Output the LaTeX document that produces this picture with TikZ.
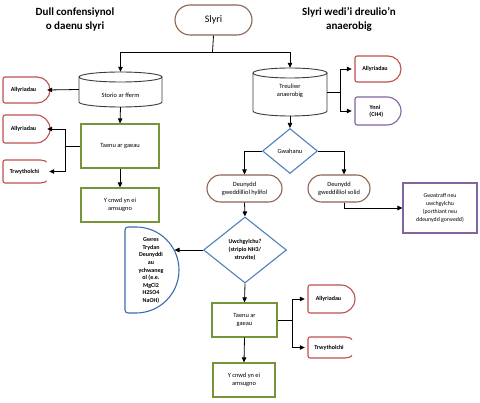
\documentclass[tikz,border=0pt]{standalone}
\usepackage{fontspec}
\setmainfont{Carlito}
\usetikzlibrary{arrows.meta,shapes.geometric,calc}
\definecolor{cred}{HTML}{C0504D}
\definecolor{cgreen}{HTML}{77933C}
\definecolor{cpurple}{HTML}{8064A2}
\definecolor{cblue}{HTML}{4F81BD}
\definecolor{cbluedk}{HTML}{3A6DAF}
\definecolor{cbrown}{HTML}{8B6552}
\definecolor{cgray}{HTML}{3A3A3A}
\newcommand\dshape[8]{% name, x0, y0, x1, y1, colour, text, clip x
  \pgfmathsetmacro\rr{(#5-#3)/2}
  \pgfmathsetmacro\xa{#4-\rr}
  \pgfmathsetmacro\ww{#4-#2}
  \pgfmathsetmacro\hh{#5-#3}
  \begin{scope}
    \clip (#2-2,#3-2) rectangle (#8,#5+2);
    \draw[draw=#6, shp, rounded corners=2pt] (\xa,#5) -- (#2,#5) -- (#2,#3) -- (\xa,#3);
    \draw[draw=#6, shp] (\xa,#3) arc[start angle=270,end angle=450,radius=\rr];
  \end{scope}
  \node[lbl, font=\fontsize{6}{7.2}\selectfont\bfseries, minimum width=\ww pt, minimum height=\hh pt] (#1) at ({(#2+#4)/2-3},{(#3+#5)/2}) {#7};
}
\begin{document}
\begin{tikzpicture}[x=1pt,y=-1pt,
  shp/.style={line width=1.1pt},
  lbl/.style={font=\fontsize{6.4}{7.8}\selectfont, align=center, inner sep=0pt},
  gbox/.style={draw=cgreen, shp, lbl},
  term/.style={draw=cbrown, shp, lbl},
  arr/.style={-{Triangle[length=5pt,width=4.5pt]}, line width=0.8pt},
  ln/.style={line width=0.8pt},
  cylst/.style={draw=cgray, line width=0.9pt},
  title/.style={font=\fontsize{11}{14}\selectfont\bfseries, align=center, inner sep=0pt}]
\useasboundingbox (0,0) rectangle (480,403);
\fill[white] (0,0) rectangle (480,403);

% titles
\node[title] (tl) at (75,19.5) {Dull confensiynol\\o daenu slyri};
\node[title] (tr) at (349,19.5) {Slyri wedi’i dreulio’n\\anaerobig};

% start
\node[term, font=\fontsize{10}{11}\selectfont, minimum width=77pt, minimum height=30pt, rounded corners=15pt] (slyri) at (213.5,20) {Slyri};

% Storio cylinder
\draw[cylst] (79,77) -- (79,102) arc[start angle=180,end angle=0,x radius=41.5,y radius=5] -- (162,77);
\draw[cylst] (120.5,77) ellipse[x radius=41.5,y radius=5];
\node[minimum width=83pt, minimum height=35pt, inner sep=0pt] (storio) at (120.5,89.5) {};
\node[lbl] (storiot) at (120.5,95) {Storio ar fferm};

% Treuliwr cylinder
\draw[cylst] (253,73) -- (253,111) arc[start angle=180,end angle=0,x radius=37,y radius=5] -- (327,73);
\draw[cylst] (290,73) ellipse[x radius=37,y radius=5];
\node[minimum width=74pt, minimum height=48pt, inner sep=0pt] (treul) at (290,92) {};
\node[lbl] (treult) at (290,91) {Treuliwr\\anaerobig};

% left column
\node[gbox, minimum width=78pt, minimum height=44pt] (taenu) at (120,146) {Taenu ar gaeau};
\node[gbox, minimum width=78pt, minimum height=34pt] (cnwd) at (120,205) {Y cnwd yn ei\\amsugno};

\dshape{a1}{3}{77}{50}{103}{cred}{Allyriadau}{60}
\dshape{a2}{3}{115}{50}{143}{cred}{Allyriadau}{60}
\dshape{t1}{3}{160}{52}{183}{cred}{Trwytholchi}{46.5}
\dshape{a3}{355}{56}{401}{82}{cred}{Allyriadau}{410}
\dshape{ynni}{355}{97}{401}{125}{cpurple}{Ynni\\\ \ (CH4)}{410}
\dshape{a4}{308}{285}{355}{313}{cred}{Allyriadau}{365}
\dshape{t2}{308}{337}{356}{358}{cred}{Trwytholchi}{352}

% separation
\node[diamond, draw=cblue, shp, lbl, minimum width=55pt, minimum height=45pt] (gw) at (290,151) {Gwahanu};
\node[term, minimum width=75pt, minimum height=27pt, rounded corners=13.5pt] (hyl) at (244.5,188.5) {Deunydd\\gweddilliol hylifol};
\node[term, minimum width=62pt, minimum height=27pt, rounded corners=13.5pt] (sol) at (339,188.5) {Deunydd\\gweddilliol solid};
\node[draw=cpurple, shp, lbl, font=\fontsize{5.8}{8}\selectfont, minimum width=74pt, minimum height=50pt] (gwas) at (440,208) {Gwastraff neu\\uwchgylchu\\(porthiant neu\\ddeunydd gorwedd)};

% upcycling decision
\node[diamond, draw=cblue, shp, lbl, font=\fontsize{6}{8}\selectfont\bfseries, minimum width=83pt, minimum height=66pt] (uw) at (245,250) {Uwchgylchu?\\(stripio NH3/\\struvite)};

% Gwres shape
\draw[draw=cbluedk, shp, rounded corners=3pt] (136,313) -- (125,313) -- (125,227) -- (136,227);
\draw[draw=cbluedk, shp] (136,227) arc[start angle=270,end angle=450,radius=43];
\node[lbl, font=\fontsize{6}{7.6}\selectfont\bfseries] (gwres) at (151,270.5) {Gwres\\Trydan\\Deunyddi\\au\\ychwaneg\\ol (e.e.\\MgCl2\\H2SO4\\NaOH)};
\coordinate (gwE) at (174.5,250);

% right column bottom
\node[gbox, minimum width=65pt, minimum height=34pt] (taenu2) at (244.5,320) {Taenu ar\\gaeau};
\node[gbox, minimum width=62pt, minimum height=34pt] (cnwd2) at (244,380) {Y cnwd yn ei\\amsugno};

% connectors
\coordinate (j1) at (212.5,52);
\draw[ln] (slyri.south) -- (j1);
\draw[arr] (j1) -| (storio.north);
\draw[arr] (j1) -| (treul.north);

\draw[arr] (storio.west) -- (a1.east);
\draw[arr] (storio.south) -- (taenu.north);
\coordinate (j2) at (65,146);
\draw[ln] (taenu.west) -- (j2);
\draw[arr] (j2) |- (a2.east);
\draw[arr] (j2) |- (t1.east);
\draw[arr] (taenu.south) -- (cnwd.north);

\coordinate (j3) at (340,92);
\draw[ln] (treul.east) -- (j3);
\draw[arr] (j3) |- (a3.west);
\draw[arr] (j3) |- (ynni.west);
\draw[arr] (treul.south) -- (gw.north);

\draw[arr] (gw.west) -| (hyl.north);
\coordinate (jr) at (344,151);
\draw[arr] (gw.east) -- (jr) -- (jr |- sol.north);
\draw[arr] (jr |- sol.south) |- (gwas.west);

\draw[arr] (hyl.south) -- (uw.north);
\draw[arr] (uw.west) -- (gwE);
\draw[arr] (uw.south) -- (taenu2.north);
\coordinate (j4) at (292,320);
\draw[ln] (taenu2.east) -- (j4);
\draw[arr] (j4) |- (a4.west);
\draw[arr] (j4) |- (t2.west);
\draw[arr] (taenu2.south) -- (cnwd2.north);
\end{tikzpicture}
\end{document}
